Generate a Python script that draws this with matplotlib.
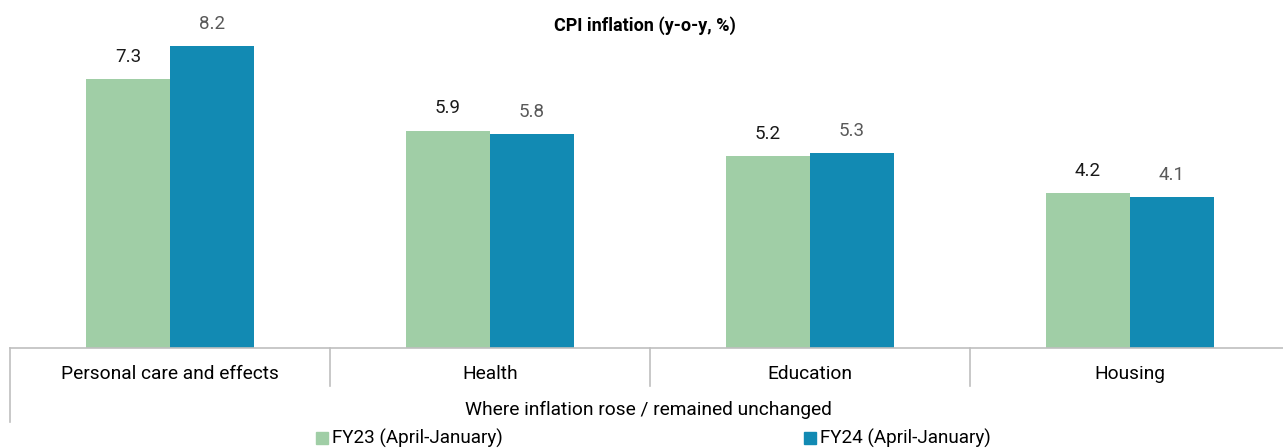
import matplotlib
matplotlib.use("Agg")
import matplotlib.pyplot as plt
from matplotlib.patches import Rectangle
import numpy as np

plt.rcParams["font.family"] = ["Roboto", "DejaVu Sans"]

categories = ["Personal care and effects", "Health", "Education", "Housing"]
fy23 = [7.3, 5.9, 5.2, 4.2]
fy24 = [8.2, 5.8, 5.3, 4.1]
series_names = ["FY23 (April-January)", "FY24 (April-January)"]
group_label = "Where inflation rose / remained unchanged"
title = "CPI inflation (y-o-y, %)"

green = "#A0CEA6"
blue = "#128AB3"
grid_gray = "#BFBFBF"

W, H = 1283, 448
fig = plt.figure(figsize=(W / 100, H / 100), dpi=100)

def fx(px):
    return px / W

def fy(py):
    return 1 - py / H

# axes from x=10..1290 px (runs past the right edge), baseline y=348 px
ax = fig.add_axes([fx(10), fy(348), fx(1280), 348 / H])
px_per_unit = 302 / 8.2
ax.set_ylim(0, 348 / px_per_unit)
ax.set_xlim(0, len(categories))

x = np.arange(len(categories)) + 0.5
bw = 84 / 320
ax.bar(x - bw / 2, fy23, width=bw, color=green, zorder=2)
ax.bar(x + bw / 2, fy24, width=bw, color=blue, zorder=2)

for xi, v in zip(x - bw / 2, fy23):
    ax.annotate(f"{v:.1f}", (xi, v), xytext=(0, 16), textcoords="offset points",
                ha="center", va="center", fontsize=13.5, color="#1a1a1a")
for xi, v in zip(x + bw / 2, fy24):
    ax.annotate(f"{v:.1f}", (xi, v), xytext=(0, 16), textcoords="offset points",
                ha="center", va="center", fontsize=13.5, color="#595959")

for s in ax.spines.values():
    s.set_visible(False)
ax.set_xticks([])
ax.set_yticks([])
ax.patch.set_alpha(0)

# category axis line and separators
fig.add_artist(plt.Line2D([fx(10), fx(1283)], [fy(348), fy(348)],
                          color=grid_gray, lw=1.2, transform=fig.transFigure))
for i, xp in enumerate([10, 330, 650, 970]):
    bottom = 422 if i == 0 else 386
    fig.add_artist(plt.Line2D([fx(xp), fx(xp)], [fy(348), fy(bottom)],
                              color=grid_gray, lw=1.2, transform=fig.transFigure))

for i, c in enumerate(categories):
    fig.text(fx(170 + 320 * i), fy(374), c, ha="center", va="center", fontsize=13.8)

fig.text(fx(648), fy(410), group_label, ha="center", va="center", fontsize=13.8)
fig.text(fx(645), fy(26), title, ha="center", va="center", fontsize=13, fontweight="bold")

# legend
for (xp, name, col) in [(316, series_names[0], green), (804, series_names[1], blue)]:
    fig.add_artist(Rectangle((fx(xp), fy(444)), fx(12), 12 / H, color=col,
                             transform=fig.transFigure))
    fig.text(fx(xp + 16), fy(438), name, ha="left", va="center", fontsize=13.6)

fig.savefig("out.png", dpi=100)
